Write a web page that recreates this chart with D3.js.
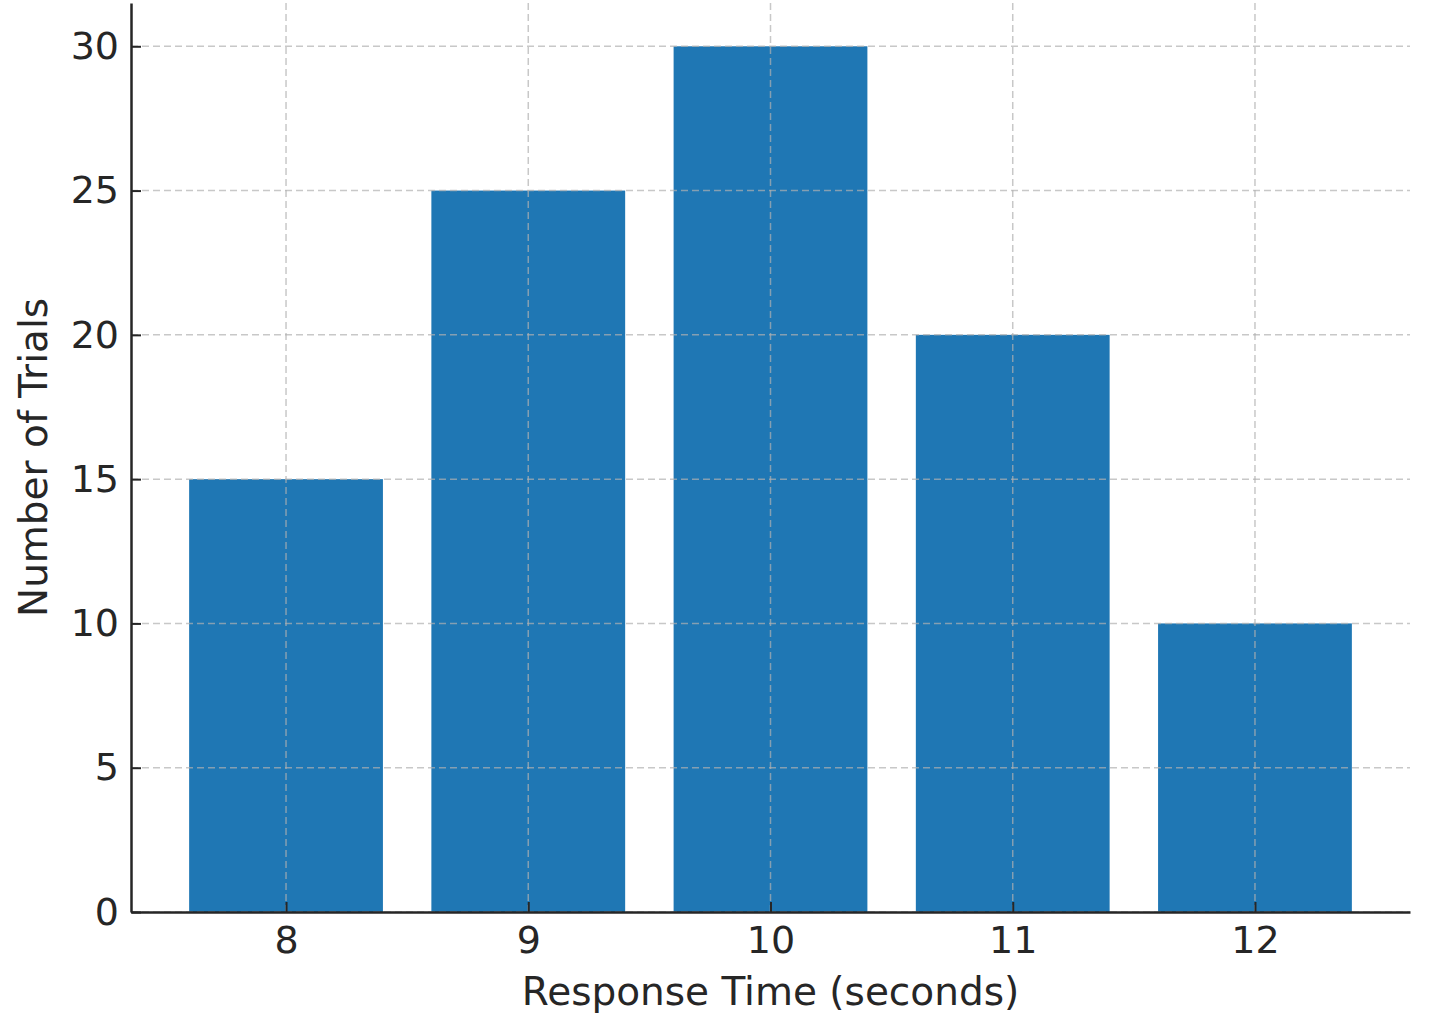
<!DOCTYPE html>
<html>
<head>
<meta charset="utf-8">
<script src="https://cdn.jsdelivr.net/npm/d3@7"></script>
<style>
  body { margin: 0; background: #fff; }
  text { font-family: "DejaVu Sans", sans-serif; fill: #262626; }
</style>
</head>
<body>
<script>
// data
var responseTimes = [8, 9, 10, 11, 12];
var trialCounts = [15, 25, 30, 20, 10];
var yTicks = [0, 5, 10, 15, 20, 25, 30];

var width = 1433, height = 1013;
var margin = {left: 131, right: 23, top: 3, bottom: 101};

var svg = d3.select('body').append('svg')
    .attr('width', width)
    .attr('height', height);

// scales (matplotlib-like 5% margins)
var x = d3.scaleLinear()
    .domain([7.36, 12.64])
    .range([margin.left, width - margin.right]);
var y = d3.scaleLinear()
    .domain([0, 31.5])
    .range([height - margin.bottom, margin.top]);

var barWidth = x(8.8) - x(8);

// bars
svg.append('g').selectAll('rect')
    .data(responseTimes)
    .enter().append('rect')
    .attr('x', function (d) { return x(d) - barWidth / 2; })
    .attr('y', function (d, i) { return y(trialCounts[i]); })
    .attr('width', barWidth)
    .attr('height', function (d, i) { return y(0) - y(trialCounts[i]); })
    .attr('fill', '#1f77b4');

// grid, drawn above the bars
var grid = svg.append('g')
    .attr('stroke', '#b0b0b0')
    .attr('stroke-opacity', 0.7)
    .attr('stroke-width', 1.5)
    .attr('stroke-dasharray', '7,4');
grid.selectAll('.gx')
    .data(responseTimes)
    .enter().append('line')
    .attr('x1', function (d) { return x(d); })
    .attr('x2', function (d) { return x(d); })
    .attr('y1', y.range()[0])
    .attr('y2', y.range()[1]);
grid.selectAll('.gy')
    .data(yTicks)
    .enter().append('line')
    .attr('x1', x.range()[0])
    .attr('x2', x.range()[1])
    .attr('y1', function (d) { return y(d); })
    .attr('y2', function (d) { return y(d); });

// axes, ticks pointing inward
var xAxis = svg.append('g')
    .attr('transform', 'translate(0,' + y(0) + ')')
    .call(d3.axisBottom(x).tickValues(responseTimes).tickFormat(d3.format('d'))
        .tickSize(-10).tickPadding(14).tickSizeOuter(0));
var yAxis = svg.append('g')
    .attr('transform', 'translate(' + x.range()[0] + ',0)')
    .call(d3.axisLeft(y).tickValues(yTicks).tickFormat(d3.format('d'))
        .tickSize(-10).tickPadding(12).tickSizeOuter(0));

[xAxis, yAxis].forEach(function (a) {
    a.select('.domain').attr('stroke', '#262626').attr('stroke-width', 2.5);
    a.selectAll('.tick line').attr('stroke', '#262626').attr('stroke-width', 2);
    a.selectAll('.tick text')
        .attr('font-size', 38)
        .attr('font-family', '"DejaVu Sans", sans-serif')
        .attr('fill', '#262626');
});

// axis labels
svg.append('text')
    .attr('x', (x.range()[0] + x.range()[1]) / 2)
    .attr('y', 1005)
    .attr('text-anchor', 'middle')
    .attr('font-size', 39)
    .text('Response Time (seconds)');
svg.append('text')
    .attr('transform', 'translate(47,' + ((y.range()[0] + y.range()[1]) / 2) + ') rotate(-90)')
    .attr('text-anchor', 'middle')
    .attr('font-size', 39)
    .text('Number of Trials');
</script>
</body>
</html>
